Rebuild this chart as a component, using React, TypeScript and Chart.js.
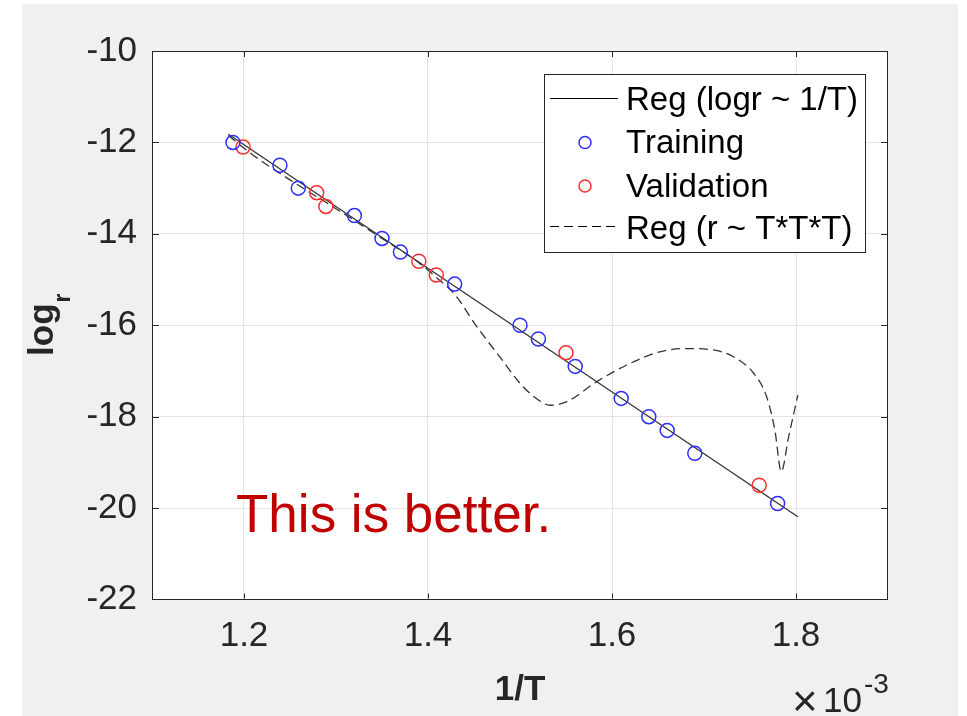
import React, { useEffect, useRef } from "react";
import { Chart, registerables } from "chart.js";

Chart.register(...registerables);

// x values are 1/T in units of 1e-3
const trainX = [1.188, 1.239, 1.259, 1.32, 1.35, 1.37, 1.429, 1.5, 1.52, 1.56, 1.61, 1.64, 1.66, 1.69, 1.78];
const trainY = [-12.0, -12.5, -13.0, -13.6, -14.1, -14.4, -15.1, -16.0, -16.3, -16.9, -17.6, -18.0, -18.3, -18.8, -19.9];
const valX = [1.199, 1.279, 1.289, 1.39, 1.409, 1.55, 1.76];
const valY = [-12.1, -13.1, -13.4, -14.6, -14.9, -16.6, -19.5];
const regLogX = [1.183, 1.802];
const regLogY = [-11.82, -20.19];
const regCubeX = [1.183, 1.21, 1.25, 1.3, 1.35, 1.39, 1.41, 1.43, 1.453, 1.478, 1.5, 1.515, 1.533, 1.551, 1.583, 1.616, 1.652, 1.681, 1.71, 1.732, 1.754, 1.768, 1.777, 1.784, 1.792, 1.802];
const regCubeY = [-11.85, -12.28, -12.82, -13.45, -14.1, -14.63, -14.97, -15.35, -16.03, -16.69, -17.27, -17.56, -17.75, -17.67, -17.24, -16.87, -16.58, -16.51, -16.54, -16.69, -17.05, -17.56, -18.29, -19.2, -18.44, -17.53];
const xTicks = [1.2, 1.4, 1.6, 1.8];
const yTicks = [-22, -20, -18, -16, -14, -12, -10];
const legendLabels = ["Reg (logr ~ 1/T)", "Training", "Validation", "Reg (r ~ T*T*T)"];
const xTitle = "1/T";
const yTitleMain = "log";
const yTitleSub = "r";
const annotationText = "This is better.";

const FONT = "'Liberation Sans', Arial, Helvetica, sans-serif";
const TXT = "#262626";
const BLUE = "rgb(45,45,255)";
const RED = "rgb(255,45,45)";

const pts = (xs: number[], ys: number[]) => xs.map((x, i) => ({ x, y: ys[i] }));

const decorPlugin = {
  id: "decor",
  beforeDraw(chart: any) {
    const { ctx, chartArea: a } = chart;
    ctx.save();
    ctx.fillStyle = "#ffffff";
    ctx.fillRect(0, 0, chart.width, chart.height);
    ctx.fillStyle = "#f0f0f0";
    ctx.fillRect(22, 4, 936, 712);
    ctx.fillStyle = "#ffffff";
    ctx.fillRect(a.left, a.top, a.right - a.left, a.bottom - a.top);
    ctx.restore();
  },
  afterDraw(chart: any) {
    const { ctx, chartArea: a, scales } = chart;
    const xs = scales.x;
    const ys = scales.y;
    ctx.save();
    // frame
    ctx.strokeStyle = TXT;
    ctx.lineWidth = 1;
    ctx.strokeRect(Math.round(a.left) + 0.5, Math.round(a.top) + 0.5, Math.round(a.right - a.left) - 1, Math.round(a.bottom - a.top) - 1);
    // inward ticks
    ctx.beginPath();
    xTicks.forEach((v) => {
      const px = Math.round(xs.getPixelForValue(v)) + 0.5;
      ctx.moveTo(px, a.bottom - 1);
      ctx.lineTo(px, a.bottom - 6);
      ctx.moveTo(px, a.top + 1);
      ctx.lineTo(px, a.top + 6);
    });
    yTicks.slice(1, -1).forEach((v) => {
      const py = Math.round(ys.getPixelForValue(v)) + 0.5;
      ctx.moveTo(a.left + 1, py);
      ctx.lineTo(a.left + 7, py);
      ctx.moveTo(a.right - 1, py);
      ctx.lineTo(a.right - 7, py);
    });
    ctx.stroke();

    // legend
    const lx = 544, ly = 74, lw = 321, lh = 178;
    ctx.fillStyle = "#ffffff";
    ctx.fillRect(lx, ly, lw, lh);
    ctx.strokeStyle = TXT;
    ctx.strokeRect(lx + 0.5, ly + 0.5, lw, lh);
    const rows = [100, 143, 187, 229];
    ctx.font = `33px ${FONT}`;
    ctx.fillStyle = "#000000";
    ctx.textBaseline = "middle";
    ctx.textAlign = "left";
    legendLabels.forEach((t, i) => ctx.fillText(t, 626, rows[i] + 1));
    ctx.strokeStyle = "#000000";
    ctx.lineWidth = 1;
    ctx.beginPath();
    ctx.moveTo(550, rows[0] - 1.5);
    ctx.lineTo(618, rows[0] - 1.5);
    ctx.stroke();
    ctx.setLineDash([9, 5]);
    ctx.beginPath();
    ctx.moveTo(550, rows[3] - 2.5);
    ctx.lineTo(618, rows[3] - 2.5);
    ctx.stroke();
    ctx.setLineDash([]);
    ctx.lineWidth = 1.5;
    ctx.strokeStyle = BLUE;
    ctx.beginPath();
    ctx.arc(585, rows[1] - 0.5, 6, 0, Math.PI * 2);
    ctx.stroke();
    ctx.strokeStyle = RED;
    ctx.beginPath();
    ctx.arc(585, rows[2] - 1, 6, 0, Math.PI * 2);
    ctx.stroke();

    // annotation
    ctx.fillStyle = "rgb(192,0,0)";
    ctx.font = `53px ${FONT}`;
    ctx.textBaseline = "alphabetic";
    ctx.textAlign = "left";
    ctx.fillText(annotationText, 236, 532);

    // x title
    ctx.fillStyle = TXT;
    ctx.font = `bold 35px ${FONT}`;
    ctx.textAlign = "center";
    ctx.fillText(xTitle, (a.left + a.right) / 2, 700);

    // exponent  ×10^-3
    ctx.textAlign = "left";
    ctx.font = `44px ${FONT}`;
    ctx.fillText("\u00d7", 792, 716);
    ctx.font = `35px ${FONT}`;
    ctx.fillText("10", 823, 712);
    ctx.font = `28px ${FONT}`;
    ctx.fillText("-3", 864, 693);

    // y title (rotated)
    ctx.translate(52.5, (a.top + a.bottom) / 2);
    ctx.rotate(-Math.PI / 2);
    ctx.font = `bold 35px ${FONT}`;
    const mw = ctx.measureText(yTitleMain).width;
    ctx.font = `bold 23px ${FONT}`;
    const sw = ctx.measureText(yTitleSub).width;
    const start = -(mw + sw) / 2;
    ctx.font = `bold 35px ${FONT}`;
    ctx.fillText(yTitleMain, start, 0);
    ctx.font = `bold 23px ${FONT}`;
    ctx.fillText(yTitleSub, start + mw + 1, 17);
    ctx.restore();
  },
};

export default function App() {
  const ref = useRef<HTMLCanvasElement | null>(null);
  useEffect(() => {
    if (!ref.current) return;
    const chart = new Chart(ref.current, {
      type: "scatter",
      data: {
        datasets: [
          {
            label: legendLabels[1],
            data: pts(trainX, trainY),
            showLine: false,
            pointStyle: "circle",
            pointRadius: 7,
            pointBorderWidth: 1.5,
            pointBorderColor: BLUE,
            pointBackgroundColor: "rgba(0,0,0,0)",
          },
          {
            label: legendLabels[2],
            data: pts(valX, valY),
            showLine: false,
            pointStyle: "circle",
            pointRadius: 7,
            pointBorderWidth: 1.5,
            pointBorderColor: RED,
            pointBackgroundColor: "rgba(0,0,0,0)",
          },
          {
            label: legendLabels[0],
            data: pts(regLogX, regLogY),
            showLine: true,
            borderColor: "#333333",
            borderWidth: 1.3,
            pointRadius: 0,
          },
          {
            label: legendLabels[3],
            data: pts(regCubeX, regCubeY),
            showLine: true,
            borderColor: "#333333",
            borderWidth: 1.3,
            borderDash: [9, 5],
            pointRadius: 0,
            cubicInterpolationMode: "monotone",
          },
        ],
      } as any,
      options: {
        animation: false,
        responsive: true,
        maintainAspectRatio: false,
        layout: { padding: { left: 0, right: 79, top: 51, bottom: 0 } },
        plugins: { legend: { display: false }, tooltip: { enabled: false } },
        scales: {
          x: {
            type: "linear",
            min: 1.1,
            max: 1.9,
            afterBuildTicks: (s: any) => {
              s.ticks = xTicks.map((v) => ({ value: v }));
            },
            afterFit: (s: any) => {
              s.height = 116.5;
            },
            grid: { color: "#e3e3e3", drawTicks: false, lineWidth: 1 },
            border: { display: false },
            ticks: {
              padding: 16,
              color: TXT,
              font: { family: FONT, size: 35 },
              callback: (v: any) => Number(v).toFixed(1),
            },
          },
          y: {
            type: "linear",
            min: -22,
            max: -10,
            afterBuildTicks: (s: any) => {
              s.ticks = yTicks.map((v) => ({ value: v }));
            },
            afterFit: (s: any) => {
              s.width = 152;
            },
            grid: { color: "#e3e3e3", drawTicks: false, lineWidth: 1 },
            border: { display: false },
            ticks: {
              padding: 15,
              color: TXT,
              font: { family: FONT, size: 35 },
              callback: (v: any) => String(v),
            },
          },
        },
      } as any,
      plugins: [decorPlugin],
    });
    return () => chart.destroy();
  }, []);
  return (
    <div style={{ position: "absolute", left: 0, top: 0, width: 967, height: 716 }}>
      <canvas ref={ref} />
    </div>
  );
}
